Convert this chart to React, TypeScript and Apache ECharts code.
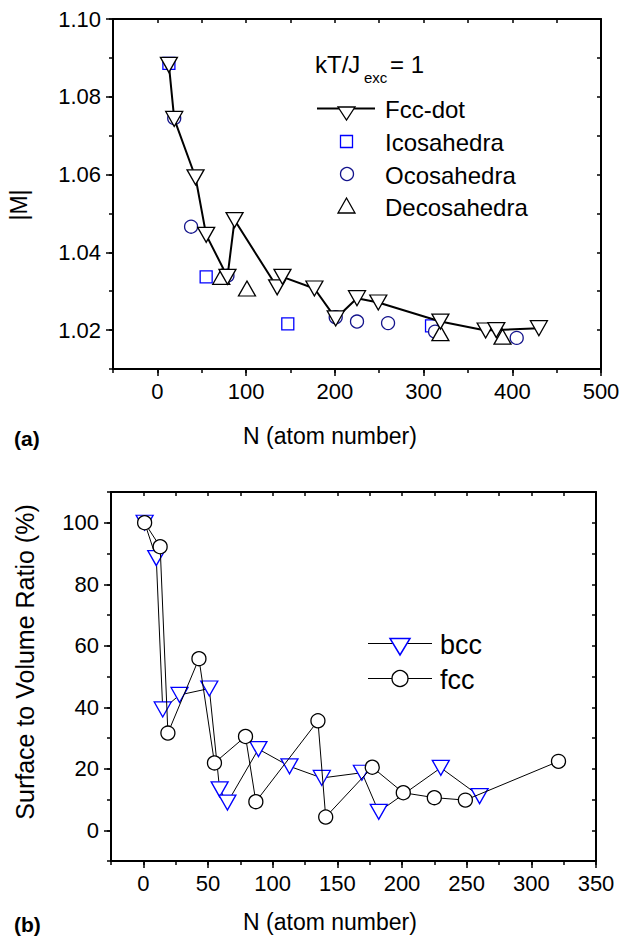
import React, { useEffect, useRef } from 'react';
import * as echarts from 'echarts';

// ---------- Panel (a): |M| vs N ----------
const fccDotN = [13, 19, 43, 55, 79, 87, 135, 141, 177, 201, 225, 249, 319, 370, 382, 430];
const fccDotM = [1.0882, 1.0743, 1.0593, 1.0445, 1.0337, 1.0483, 1.031, 1.0337, 1.0307, 1.023, 1.0282, 1.0271, 1.0222, 1.0199, 1.02, 1.0205];
const icoN = [13, 55, 147, 309];
const icoM = [1.0886, 1.0337, 1.0216, 1.0211];
const ocoN = [19, 38, 79, 201, 225, 260, 313, 405];
const ocoM = [1.0745, 1.0466, 1.034, 1.0233, 1.0222, 1.0218, 1.0196, 1.018];
const decoN = [72, 101, 319, 389];
const decoM = [1.0337, 1.0307, 1.0192, 1.0183];

const aXTicks = [0, 100, 200, 300, 400, 500];
const aYTicks = [1.02, 1.04, 1.06, 1.08, 1.1];

// ---------- Panel (b): surface to volume ratio ----------
const bccN = [1, 10, 15, 28, 51, 59, 65, 89, 113, 138, 169, 182, 230, 260];
const bccV = [100, 88.5, 39.3, 44, 46.1, 13.3, 9, 26.4, 20.8, 17, 18.7, 6, 20.3, 11.1];
const fccN = [1, 13, 19, 43, 55, 79, 87, 135, 141, 177, 201, 225, 249, 321];
const fccV = [100, 92.2, 31.6, 55.8, 21.9, 30.5, 9.3, 35.6, 4.3, 20.5, 12.2, 10.6, 9.8, 22.4];

const bXTicks = [0, 50, 100, 150, 200, 250, 300, 350];
const bYTicks = [0, 20, 40, 60, 80, 100];

const FONT = "'Liberation Sans', Arial, Helvetica, sans-serif";
const BLACK = '#000';

const zip = (xs: number[], ys: number[]) => xs.map((x, i) => [x, ys[i]]);

function xAxes(grid: number, min: number, max: number, step: number, majors: number[], fmt: (v: number) => string) {
  const line = { color: BLACK, width: 2 };
  return [
    {
      type: 'value', gridIndex: grid, min, max, interval: step, position: 'bottom',
      axisLine: { show: true, onZero: false, lineStyle: line },
      axisTick: { show: true, inside: false, length: 4, lineStyle: { color: BLACK, width: 1.5 } },
      axisLabel: { show: true, formatter: fmt, color: BLACK, fontSize: 22, fontFamily: FONT, margin: 11 },
      splitLine: { show: false },
    },
    {
      type: 'value', gridIndex: grid, min, max, interval: step, position: 'bottom',
      axisLine: { show: false, onZero: false },
      axisTick: { show: true, inside: false, length: 7, customValues: majors, lineStyle: { color: BLACK, width: 1.5 } },
      axisLabel: { show: false },
      splitLine: { show: false },
    },
    {
      type: 'value', gridIndex: grid, min, max, interval: step, position: 'top',
      axisLine: { show: true, onZero: false, lineStyle: line },
      axisTick: { show: true, inside: true, length: 4, lineStyle: { color: BLACK, width: 1.5 } },
      axisLabel: { show: false },
      splitLine: { show: false },
    },
  ];
}

function yAxes(grid: number, min: number, max: number, step: number, majors: number[], fmt: (v: number) => string) {
  const line = { color: BLACK, width: 2 };
  return [
    {
      type: 'value', gridIndex: grid, min, max, interval: step, position: 'left',
      axisLine: { show: true, onZero: false, lineStyle: line },
      axisTick: { show: true, inside: false, length: 4, lineStyle: { color: BLACK, width: 1.5 } },
      axisLabel: { show: true, formatter: fmt, color: BLACK, fontSize: 22, fontFamily: FONT, margin: 12 },
      splitLine: { show: false },
    },
    {
      type: 'value', gridIndex: grid, min, max, interval: step, position: 'left',
      axisLine: { show: false, onZero: false },
      axisTick: { show: true, inside: false, length: 7, customValues: majors, lineStyle: { color: BLACK, width: 1.5 } },
      axisLabel: { show: false },
      splitLine: { show: false },
    },
    {
      type: 'value', gridIndex: grid, min, max, interval: step, position: 'right',
      axisLine: { show: true, onZero: false, lineStyle: line },
      axisTick: { show: true, inside: true, length: 4, lineStyle: { color: BLACK, width: 1.5 } },
      axisLabel: { show: false },
      splitLine: { show: false },
    },
  ];
}

const txt = (x: number, y: number, text: string, fontSize: number, extra: any = {}) => ({
  type: 'text', x, y, silent: true,
  style: { text, fontSize, fontFamily: FONT, fill: BLACK, align: 'left', verticalAlign: 'middle', ...(extra.style || {}) },
  ...(extra.el || {}),
});

export default function App() {
  const ref = useRef<HTMLDivElement>(null);

  useEffect(() => {
    if (!ref.current) return;
    const chart = echarts.init(ref.current, undefined, { renderer: 'svg' });

    const aXfmt = (v: number) => (v >= 0 && Math.round(v) % 100 === 0 ? String(Math.round(v)) : '');
    const aYfmt = (v: number) => {
      const k = Math.round(v * 100);
      return k % 2 === 0 ? (k / 100).toFixed(2) : '';
    };
    const bXfmt = (v: number) => (v >= 0 && Math.round(v) % 50 === 0 ? String(Math.round(v)) : '');
    const bYfmt = (v: number) => (v >= 0 && v <= 100 && Math.round(v) % 20 === 0 ? String(Math.round(v)) : '');

    const hollow = (color: string, w = 1.3) => ({ color: '#fff', borderColor: color, borderWidth: w, opacity: 1 });

    const option: any = {
      animation: false,
      backgroundColor: '#fff',
      grid: [
        { left: 113, top: 19, width: 488, height: 350, containLabel: false },
        { left: 111, top: 492, width: 485, height: 369, containLabel: false },
      ],
      xAxis: [
        ...xAxes(0, -50, 500, 50, aXTicks, aXfmt),
        ...xAxes(1, -25, 350, 25, bXTicks, bXfmt),
      ],
      yAxis: [
        ...yAxes(0, 1.01, 1.1, 0.01, aYTicks, aYfmt),
        ...yAxes(1, -10, 110, 10, bYTicks, bYfmt),
      ],
      series: [
        {
          name: 'Icosahedra', type: 'scatter', xAxisIndex: 0, yAxisIndex: 0,
          data: zip(icoN, icoM), symbol: 'rect', symbolSize: 12,
          itemStyle: hollow('#0000ff'),
        },
        {
          name: 'Ocosahedra', type: 'scatter', xAxisIndex: 0, yAxisIndex: 0,
          data: zip(ocoN, ocoM), symbol: 'circle', symbolSize: 13,
          itemStyle: hollow('#14148c'),
        },
        {
          name: 'Decosahedra', type: 'scatter', xAxisIndex: 0, yAxisIndex: 0,
          data: zip(decoN, decoM), symbol: 'triangle', symbolSize: [17, 15],
          itemStyle: hollow(BLACK),
        },
        {
          name: 'Fcc-dot', type: 'line', xAxisIndex: 0, yAxisIndex: 0,
          data: zip(fccDotN, fccDotM), symbol: 'triangle', symbolRotate: 180, symbolSize: [17, 15],
          showAllSymbol: true,
          lineStyle: { color: BLACK, width: 2 },
          itemStyle: hollow(BLACK),
          z: 5,
        },
        {
          name: 'bcc', type: 'line', xAxisIndex: 3, yAxisIndex: 3,
          data: zip(bccN, bccV), symbol: 'triangle', symbolRotate: 180, symbolSize: [17, 15],
          showAllSymbol: true,
          lineStyle: { color: BLACK, width: 1 },
          itemStyle: hollow('#0000ff', 1.3),
        },
        {
          name: 'fcc', type: 'line', xAxisIndex: 3, yAxisIndex: 3,
          data: zip(fccN, fccV), symbol: 'circle', symbolSize: 14,
          showAllSymbol: true,
          lineStyle: { color: BLACK, width: 1 },
          itemStyle: hollow(BLACK, 1.3),
          z: 4,
        },
      ],
      graphic: [
        // panel (a) annotation + legend
        txt(315, 64, 'kT/J', 24),
        txt(364, 77, 'exc', 15),
        txt(390, 64, '= 1', 24),
        { type: 'line', shape: { x1: 317, y1: 108.5, x2: 375, y2: 108.5 }, style: { stroke: BLACK, lineWidth: 2 } },
        { type: 'polygon', shape: { points: [[338, 107], [355, 107], [346.5, 120]] }, style: { fill: '#fff', stroke: BLACK, lineWidth: 1.3 } },
        txt(385, 109, 'Fcc-dot', 24),
        { type: 'rect', shape: { x: 340.5, y: 135.5, width: 12, height: 12 }, style: { fill: '#fff', stroke: '#0000ff', lineWidth: 1.3 } },
        txt(385, 142, 'Icosahedra', 24),
        { type: 'circle', shape: { cx: 347, cy: 174, r: 6.5 }, style: { fill: '#fff', stroke: '#14148c', lineWidth: 1.3 } },
        txt(385, 175, 'Ocosahedra', 24),
        { type: 'polygon', shape: { points: [[338, 213], [355, 213], [346.5, 198]] }, style: { fill: '#fff', stroke: BLACK, lineWidth: 1.3 } },
        txt(385, 207, 'Decosahedra', 24),
        // panel (a) titles
        txt(19, 205, '|M|', 23, { style: { align: 'center' }, el: { rotation: Math.PI / 2 } }),
        txt(330, 436, 'N (atom number)', 23, { style: { align: 'center' } }),
        txt(14, 438, '(a)', 21, { style: { fontWeight: 'bold' } }),
        // panel (b) legend
        { type: 'line', shape: { x1: 368, y1: 643.5, x2: 432, y2: 643.5 }, style: { stroke: BLACK, lineWidth: 1 } },
        { type: 'polygon', shape: { points: [[390, 638.5], [410, 638.5], [400, 655]] }, style: { fill: '#fff', stroke: '#0000ff', lineWidth: 1.5 } },
        txt(440, 645, 'bcc', 27),
        { type: 'line', shape: { x1: 368, y1: 678.5, x2: 432, y2: 678.5 }, style: { stroke: BLACK, lineWidth: 1 } },
        { type: 'circle', shape: { cx: 400, cy: 678.5, r: 8 }, style: { fill: '#fff', stroke: BLACK, lineWidth: 1.3 } },
        txt(440, 680, 'fcc', 27),
        // panel (b) titles
        txt(25, 662, 'Surface to Volume Ratio (%)', 25, { style: { align: 'center' }, el: { rotation: Math.PI / 2 } }),
        txt(330, 922, 'N (atom number)', 23, { style: { align: 'center' } }),
        txt(14, 924, '(b)', 21, { style: { fontWeight: 'bold' } }),
      ],
    };

    chart.setOption(option);
    return () => chart.dispose();
  }, []);

  return <div ref={ref} style={{ position: 'absolute', left: 0, top: 0, width: 626, height: 938, background: '#fff' }} />;
}
